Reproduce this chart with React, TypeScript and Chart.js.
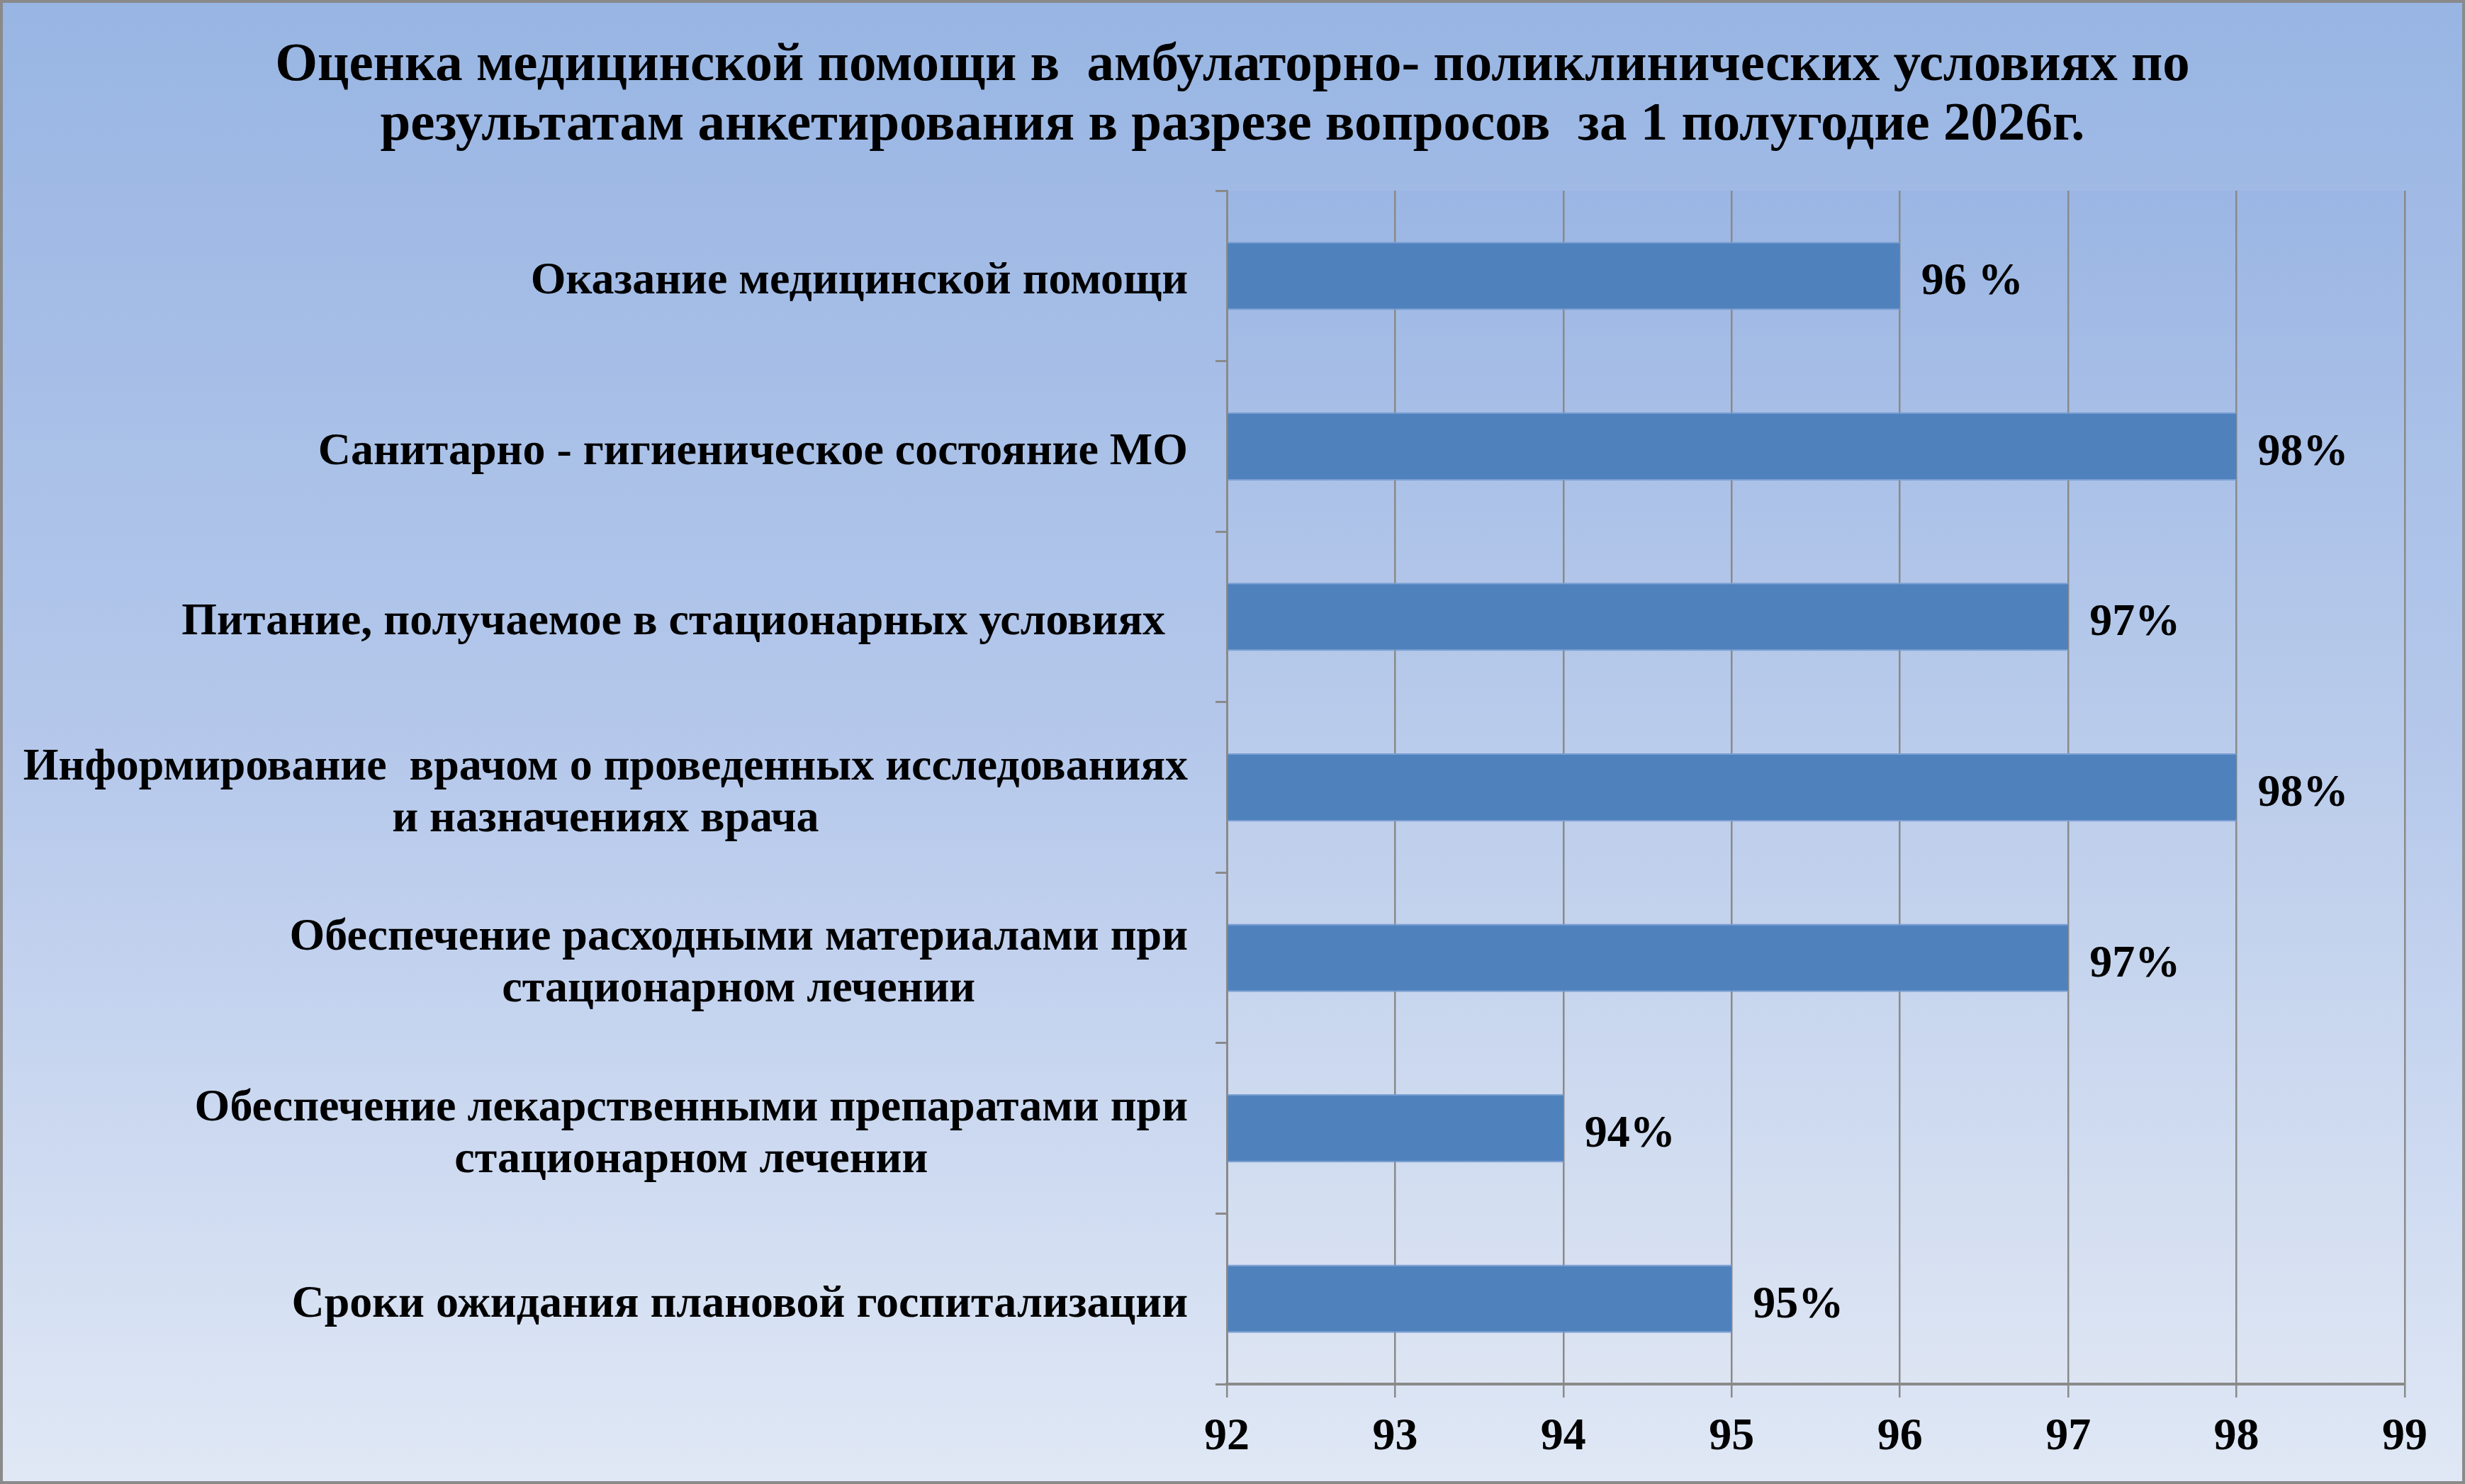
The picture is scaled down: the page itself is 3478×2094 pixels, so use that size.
import React, { useEffect, useRef } from "react";
import { Chart, registerables, Plugin } from "chart.js";

Chart.register(...registerables);

const TITLE_LINES = [
  "Оценка медицинской помощи в  амбулаторно- поликлинических условиях по",
  "результатам анкетирования в разрезе вопросов  за 1 полугодие 2026г.",
];

// each category is a list of label lines
const CATEGORIES: string[][] = [
  ["Оказание медицинской помощи"],
  ["Санитарно - гигиеническое состояние МО"],
  ["Питание, получаемое в стационарных условиях  "],
  ["Информирование  врачом о проведенных исследованиях", "и назначениях врача"],
  ["Обеспечение расходными материалами при", "стационарном лечении"],
  ["Обеспечение лекарственными препаратами при", "стационарном лечении"],
  ["Сроки ожидания плановой госпитализации"],
];

const VALUES = [96, 98, 97, 98, 97, 94, 95];
const VALUE_LABELS = ["96 %", "98%", "97%", "98%", "97%", "94%", "95%"];

const X_MIN = 92;
const X_MAX = 99;
const X_STEP = 1;

const FONT_FAMILY = "'Times New Roman', 'Liberation Serif', serif";
const LABEL_SIZE = 64;
const LABEL_LINE = 73;
const TITLE_SIZE = 77;
const TITLE_LINE = 84;
const AXIS_GRAY = "#8a8a8a";

const slidePlugin: Plugin<"bar"> = {
  id: "slide",
  beforeDraw(chart) {
    const { ctx, width, height, chartArea } = chart;
    ctx.save();
    const bg = ctx.createLinearGradient(0, 0, 0, height);
    bg.addColorStop(0, "#98b5e3");
    bg.addColorStop(0.5, "#b5c8eb");
    bg.addColorStop(1, "#e0e8f5");
    ctx.fillStyle = bg;
    ctx.fillRect(0, 0, width, height);

    const pg = ctx.createLinearGradient(0, chartArea.top, 0, chartArea.bottom);
    pg.addColorStop(0, "#9bb6e4");
    pg.addColorStop(1, "#dde5f3");
    ctx.fillStyle = pg;
    ctx.fillRect(
      chartArea.left,
      chartArea.top,
      chartArea.right - chartArea.left,
      chartArea.bottom - chartArea.top
    );
    ctx.restore();
  },
  afterDraw(chart) {
    const { ctx, width, height } = chart;
    const yScale = chart.scales.y;
    const meta = chart.getDatasetMeta(0);
    ctx.save();
    ctx.fillStyle = "#000";

    // title, centred on the whole slide
    ctx.font = `bold ${TITLE_SIZE}px ${FONT_FAMILY}`;
    ctx.textAlign = "center";
    ctx.textBaseline = "middle";
    TITLE_LINES.forEach((line, i) => {
      ctx.fillText(line, width / 2, 93 + i * TITLE_LINE);
    });

    ctx.font = `bold ${LABEL_SIZE}px ${FONT_FAMILY}`;
    ctx.textBaseline = "alphabetic";

    // category labels: block right-aligned, lines centred inside block
    const right = chart.chartArea.left - 55;
    CATEGORIES.forEach((lines, i) => {
      const cy = yScale.getPixelForValue(i);
      const blockW = Math.max(...lines.map((l) => ctx.measureText(l).width));
      const cx = right - blockW / 2;
      ctx.textAlign = "center";
      lines.forEach((line, j) => {
        const y = cy + (j - (lines.length - 1) / 2) * LABEL_LINE + 25;
        ctx.fillText(line, cx, y);
      });
    });

    // value labels at bar ends
    ctx.textAlign = "left";
    meta.data.forEach((bar: any, i: number) => {
      ctx.fillText(VALUE_LABELS[i], bar.x + 30, bar.y + 26);
    });

    ctx.strokeStyle = AXIS_GRAY;
    ctx.lineWidth = 4;
    ctx.strokeRect(2, 2, width - 4, height - 4);
    ctx.restore();
  },
};

export default function App() {
  const canvasRef = useRef<HTMLCanvasElement>(null);
  const chartRef = useRef<Chart | null>(null);

  useEffect(() => {
    if (!canvasRef.current) return;
    if (chartRef.current) chartRef.current.destroy();

    chartRef.current = new Chart(canvasRef.current, {
      type: "bar",
      data: {
        labels: CATEGORIES.map((l) => l.join(" ")),
        datasets: [
          {
            data: VALUES,
            base: X_MIN,
            backgroundColor: "#4f81bd",
            borderColor: "#7a9fd3",
            borderWidth: { top: 2, bottom: 2, left: 0, right: 0 },
            borderSkipped: false,
            categoryPercentage: 1,
            barPercentage: 0.4,
          },
        ],
      },
      options: {
        indexAxis: "y",
        animation: false,
        responsive: true,
        maintainAspectRatio: false,
        layout: { padding: { left: 0, right: 85, top: 269, bottom: 0 } },
        plugins: {
          legend: { display: false },
          tooltip: { enabled: false },
          title: { display: false },
        },
        scales: {
          x: {
            type: "linear",
            min: X_MIN,
            max: X_MAX,
            ticks: {
              stepSize: X_STEP,
              color: "#000",
              padding: 18,
              font: { family: FONT_FAMILY, size: 64, weight: "bold" },
            },
            grid: {
              color: AXIS_GRAY,
              lineWidth: 2.5,
              tickLength: 19,
              drawTicks: true,
            },
            border: { display: true, color: AXIS_GRAY, width: 4 },
            afterFit: (scale: any) => {
              scale.height = 141;
            },
          },
          y: {
            type: "category",
            offset: true,
            ticks: { display: false },
            grid: {
              offset: true,
              drawOnChartArea: false,
              drawTicks: true,
              tickLength: 16,
              color: AXIS_GRAY,
              lineWidth: 3,
            },
            border: { display: true, color: AXIS_GRAY, width: 3 },
            afterFit: (scale: any) => {
              scale.width = 1731;
            },
          },
        },
      },
      plugins: [slidePlugin],
    });

    return () => {
      if (chartRef.current) {
        chartRef.current.destroy();
        chartRef.current = null;
      }
    };
  }, []);

  return (
    <div style={{ position: "fixed", left: 0, top: 0, width: 3478, height: 2094 }}>
      <canvas ref={canvasRef} />
    </div>
  );
}
